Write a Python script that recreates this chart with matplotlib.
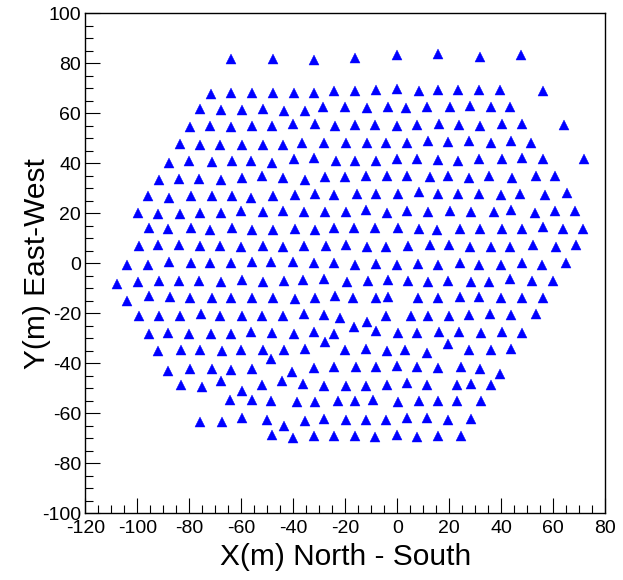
#!/usr/bin/env python3
"""
plot.py
--------------------------------------------------
Detector station layout: X (North-South) vs Y (East-West),
drawn in the ROOT look (blue triangles, inward ticks).
Saves out.png (623x580).
"""

import matplotlib
matplotlib.use("Agg")
import matplotlib.pyplot as plt
from matplotlib.ticker import MultipleLocator

# -----------------------------------------------------------------------------
# DATA  (station positions in metres, one row of the array at a time)
# -----------------------------------------------------------------------------
row01_x = [-64.0, -47.7, -32.0, -16.3, -0.3, 15.5, 31.8, 47.7]
row01_y = [81.9, 81.9, 81.5, 82.0, 83.3, 83.8, 82.6, 83.3]

row02_x = [-71.7, -64.0, -56.0, -47.7, -39.6, -32.0, -24.3, -16.3, -8.1, -0.3,
           8.3, 15.8, 23.4, 31.5, 39.5, 55.9]
row02_y = [67.6, 68.0, 68.0, 68.0, 68.2, 68.2, 68.9, 68.9, 69.3, 69.7,
           68.9, 69.5, 69.2, 69.2, 69.2, 68.9]

row03_x = [-75.9, -67.9, -59.6, -51.8, -43.6, -35.6, -28.5, -20.3, -11.8, -3.7,
           3.3, 11.3, 20.3, 28.0, 36.0, 43.3]
row03_y = [61.7, 61.3, 61.3, 61.8, 61.0, 61.0, 62.6, 62.5, 62.3, 62.6,
           62.1, 62.6, 62.6, 62.9, 62.6, 62.6]

row04_x = [-79.7, -72.0, -64.0, -55.8, -48.1, -40.0, -31.5, -24.0, -16.4, -8.4,
           -0.3, 7.5, 16.2, 23.8, 31.8, 40.2, 48.1, 64.1]
row04_y = [54.4, 54.9, 54.4, 54.8, 54.8, 55.7, 55.7, 54.9, 55.2, 55.2,
           54.9, 55.2, 55.7, 55.2, 54.9, 55.7, 55.7, 55.4]

row05_x = [-83.6, -75.9, -68.2, -59.6, -51.8, -43.8, -36.5, -28.2, -19.7, -11.8,
           -4.3, 3.6, 11.9, 19.6, 27.6, 35.9, 43.7, 51.3]
row05_y = [47.8, 47.2, 47.5, 47.5, 47.5, 47.2, 48.0, 48.3, 48.3, 48.3,
           48.3, 48.0, 48.8, 48.5, 48.8, 48.3, 48.8, 48.3]

row06_x = [-87.8, -80.0, -71.4, -63.7, -56.3, -48.3, -39.6, -31.9, -23.6, -16.3,
           -8.0, 0.0, 7.5, 15.5, 23.4, 31.5, 40.2, 48.1, 56.2, 71.9]
row06_y = [40.3, 41.1, 40.6, 41.1, 41.1, 40.3, 41.6, 42.2, 41.1, 41.1,
           41.1, 41.6, 41.9, 41.4, 41.1, 41.9, 41.6, 42.2, 41.6, 41.6]

row07_x = [-91.8, -83.8, -76.2, -67.7, -59.8, -52.0, -44.1, -35.6, -27.8, -20.1,
           -12.2, -3.8, 3.6, 12.6, 19.5, 27.7, 35.4, 44.0, 53.2, 60.7]
row07_y = [33.4, 33.8, 33.7, 33.2, 34.2, 34.8, 34.2, 33.4, 34.5, 34.5,
           35.0, 34.8, 34.8, 34.5, 34.8, 34.2, 35.0, 34.2, 35.0, 34.8]

row08_x = [-96.0, -87.7, -79.3, -71.4, -63.7, -56.2, -47.9, -39.3, -31.5, -24.4,
           -15.6, -8.2, 0.4, 8.5, 15.5, 23.4, 31.4, 39.9, 47.2, 56.8, 65.2]
row08_y = [26.8, 26.3, 27.1, 27.1, 26.8, 26.3, 26.8, 27.3, 27.9, 27.3,
           27.9, 27.6, 27.6, 28.4, 27.9, 27.9, 27.9, 27.3, 27.9, 27.3, 28.1]

row09_x = [-99.8, -92.2, -83.6, -75.9, -67.9, -60.2, -51.8, -44.1, -35.9, -27.8,
           -19.8, -12.1, -3.8, 3.8, 11.9, 20.3, 28.2, 37.2, 43.6, 53.1, 60.8, 68.3]
row09_y = [20.2, 19.6, 19.6, 20.2, 20.2, 21.0, 20.6, 21.0, 20.6, 20.6,
           20.6, 21.2, 20.2, 21.0, 20.7, 21.0, 20.4, 20.4, 21.2, 20.2, 21.0, 21.0]

row10_x = [-95.4, -88.1, -79.4, -72.0, -63.5, -55.9, -47.9, -39.5, -31.7, -24.2,
           -16.5, -8.6, 0.2, 8.3, 15.2, 24.1, 31.8, 40.2, 48.0, 55.9, 63.6, 71.5]
row10_y = [14.1, 13.6, 14.1, 13.3, 14.1, 13.3, 13.3, 13.6, 13.3, 14.1,
           14.1, 14.1, 14.1, 13.8, 13.3, 13.8, 13.8, 13.8, 13.8, 14.4, 13.8, 13.6]

row11_x = [-99.2, -91.9, -83.8, -75.9, -68.2, -60.2, -51.8, -43.8, -35.9, -27.4,
           -19.7, -11.8, -4.3, 4.2, 12.6, 20.0, 28.0, 35.9, 43.3, 52.1, 61.0, 68.7]
row11_y = [6.9, 7.2, 7.2, 6.9, 6.9, 6.6, 6.9, 6.6, 6.9, 6.9,
           7.2, 6.6, 6.4, 6.9, 7.2, 7.2, 6.4, 6.6, 6.4, 7.2, 6.4, 7.2]

row12_x = [-104.1, -95.8, -87.7, -79.3, -72.0, -64.0, -55.9, -48.5, -40.0, -32.0,
           -24.2, -16.3, -8.0, 0.0, 7.8, 15.5, 24.1, 31.5, 39.9, 47.8, 55.5, 64.9]
row12_y = [-0.5, -0.8, 0.6, 0.0, 0.0, 0.0, 0.6, 0.6, 0.6, 0.0,
           0.3, -0.5, -0.2, -0.5, -0.2, -0.5, 0.3, -0.5, -0.5, 0.0, -0.5, 0.3]

row13_x = [-107.7, -99.6, -91.7, -83.8, -76.3, -67.8, -59.9, -51.5, -43.6, -36.2,
           -28.2, -19.5, -11.3, -3.5, 4.2, 11.9, 19.6, 28.3, 35.4, 43.3, 51.9, 60.0]
row13_y = [-8.2, -7.4, -6.9, -7.1, -6.9, -7.4, -6.6, -7.4, -6.9, -6.6,
           -6.3, -7.4, -6.9, -6.6, -6.9, -7.4, -6.9, -7.4, -7.4, -6.3, -6.9, -7.1]

row14_x = [-104.1, -95.5, -87.4, -79.7, -71.4, -64.1, -56.0, -47.9, -39.3, -31.7,
           -24.0, -17.0, -8.2, -3.4, 8.1, 15.8, 24.1, 31.4, 39.8, 47.8, 56.2]
row14_y = [-15.1, -13.2, -13.5, -13.8, -14.0, -13.8, -13.8, -14.0, -14.3, -13.8,
           -13.2, -13.8, -13.8, -13.5, -14.0, -13.8, -13.5, -13.5, -14.0, -13.8, -14.0]

row15_x = [-99.2, -91.7, -83.6, -75.6, -68.2, -59.7, -52.1, -43.8, -35.9, -28.1,
           -22.0, -16.8, -11.8, -8.3, -4.3, 5.2, 11.7, 20.0, 27.7, 35.7, 43.6, 53.2]
row15_y = [-20.9, -21.2, -21.2, -20.4, -20.9, -20.9, -20.9, -20.9, -20.1, -20.6,
           -22.0, -25.3, -23.4, -27.0, -20.9, -20.9, -20.9, -21.2, -20.6, -20.1, -20.6, -20.1]

row16_x = [-95.4, -88.1, -80.3, -71.7, -64.1, -56.3, -48.1, -39.7, -32.0, -24.3,
           0.1, 7.7, 16.0, 23.7, 32.2, 40.2, 48.1]
row16_y = [-28.1, -27.8, -28.1, -28.1, -28.1, -27.5, -27.8, -28.1, -27.5, -28.1,
           -27.8, -27.8, -27.5, -27.5, -27.8, -27.5, -27.8]

row17_x = [-92.0, -83.3, -75.9, -67.6, -60.2, -51.5, -43.6, -35.6, -27.7, -20.1,
           -12.2, -3.8, 3.0, 11.5, 19.6, 27.6, 35.9, 43.6]
row17_y = [-35.2, -34.7, -34.7, -35.0, -34.7, -34.7, -34.7, -34.4, -31.6, -34.7,
           -34.2, -35.2, -34.7, -36.0, -32.3, -34.7, -34.7, -34.2]

row18_x = [-88.1, -79.7, -71.4, -64.0, -56.0, -48.7, -40.4, -31.9, -24.3, -15.9,
           -8.0, 0.0, 7.5, 15.5, 24.4, 31.8, 39.5]
row18_y = [-42.9, -42.4, -42.4, -42.7, -42.1, -38.4, -43.4, -41.9, -41.6, -41.6,
           -41.6, -41.1, -41.3, -41.9, -41.6, -42.4, -44.2]

row19_x = [-83.3, -75.2, -67.7, -59.9, -52.1, -44.2, -36.2, -28.1, -19.8, -11.9,
           -3.8, 3.6, 11.5, 23.1, 28.2, 35.9]
row19_y = [-48.5, -49.5, -46.9, -50.9, -48.5, -47.2, -48.2, -49.0, -49.0, -49.0,
           -48.7, -47.7, -48.7, -48.7, -48.2, -48.7]

row20_x = [-64.4, -55.7, -48.7, -38.7, -31.7, -22.8, -16.2, -9.5, 0.1, 8.3,
           15.5, 23.1, 32.3]
row20_y = [-54.6, -54.6, -55.1, -55.4, -55.6, -55.1, -55.1, -54.8, -55.4, -55.1,
           -55.1, -55.1, -55.1]

row21_x = [-75.9, -67.6, -59.9, -50.3, -43.6, -35.5, -28.2, -19.6, -11.9, -4.3,
           3.6, 11.5, 19.6, 28.2]
row21_y = [-63.6, -63.6, -62.0, -62.5, -65.2, -63.1, -62.3, -62.5, -62.5, -62.5,
           -62.0, -62.0, -62.5, -62.3]

row22_x = [-48.3, -40.0, -32.0, -24.5, -16.3, -8.6, -0.3, 7.5, 15.5, 24.4]
row22_y = [-68.6, -69.7, -69.2, -69.2, -68.9, -69.4, -68.6, -69.4, -68.9, -69.2]

x_ticks = [-120, -100, -80, -60, -40, -20, 0, 20, 40, 60, 80]
y_ticks = [-100, -80, -60, -40, -20, 0, 20, 40, 60, 80, 100]

# -----------------------------------------------------------------------------
# CONFIGURATION
# -----------------------------------------------------------------------------
OUT_FILE = "out.png"
FONT = ["Liberation Sans", "DejaVu Sans"]
MARKER_COLOR = "#0000ff"


# -----------------------------------------------------------------------------
def collect_rows():
    """Stack the per-row lists into two flat coordinate lists."""
    xs_rows = [row01_x, row02_x, row03_x, row04_x, row05_x, row06_x, row07_x,
               row08_x, row09_x, row10_x, row11_x, row12_x, row13_x, row14_x,
               row15_x, row16_x, row17_x, row18_x, row19_x, row20_x, row21_x,
               row22_x]
    ys_rows = [row01_y, row02_y, row03_y, row04_y, row05_y, row06_y, row07_y,
               row08_y, row09_y, row10_y, row11_y, row12_y, row13_y, row14_y,
               row15_y, row16_y, row17_y, row18_y, row19_y, row20_y, row21_y,
               row22_y]
    xs, ys = [], []
    for rx, ry in zip(xs_rows, ys_rows):
        assert len(rx) == len(ry)
        xs.extend(rx)
        ys.extend(ry)
    return xs, ys


def plot_layout(xs, ys):
    plt.rcParams["font.family"] = FONT
    plt.rcParams["axes.unicode_minus"] = False

    fig = plt.figure(figsize=(6.23, 5.80), dpi=100)
    ax = fig.add_axes([0.1369, 0.115, 0.8347, 0.862])

    ax.plot(xs, ys, linestyle="none", marker="^", markersize=7.3,
            color=MARKER_COLOR, markeredgewidth=0.3)

    ax.set_xlim(-120, 80)
    ax.set_ylim(-100, 100)
    ax.set_xticks(x_ticks)
    ax.set_yticks(y_ticks)
    ax.set_xticklabels([str(t) for t in x_ticks])
    ax.set_yticklabels([str(t) for t in y_ticks])
    ax.xaxis.set_minor_locator(MultipleLocator(5))
    ax.yaxis.set_minor_locator(MultipleLocator(5))

    # ROOT style: inward ticks, left/bottom only
    ax.tick_params(which="both", direction="in", top=False, right=False,
                   width=0.8, color="black")
    ax.tick_params(which="major", length=11)
    ax.tick_params(which="minor", length=5.5)
    ax.tick_params(axis="x", which="major", labelsize=14, pad=4.5)
    ax.tick_params(axis="y", which="major", labelsize=14, pad=3)

    for side in ax.spines.values():
        side.set_linewidth(1.0)
        side.set_color("black")

    ax.set_xlabel("X(m) North - South", fontsize=21.5)
    ax.set_ylabel("Y(m) East-West", fontsize=21.5)
    ax.xaxis.set_label_coords(0.5, -0.06)
    ax.yaxis.set_label_coords(-0.066, 0.5)

    fig.savefig(OUT_FILE, dpi=100)
    plt.close(fig)


# -----------------------------------------------------------------------------
if __name__ == "__main__":
    xs, ys = collect_rows()
    print(f"Plotting {len(xs)} stations")
    plot_layout(xs, ys)
